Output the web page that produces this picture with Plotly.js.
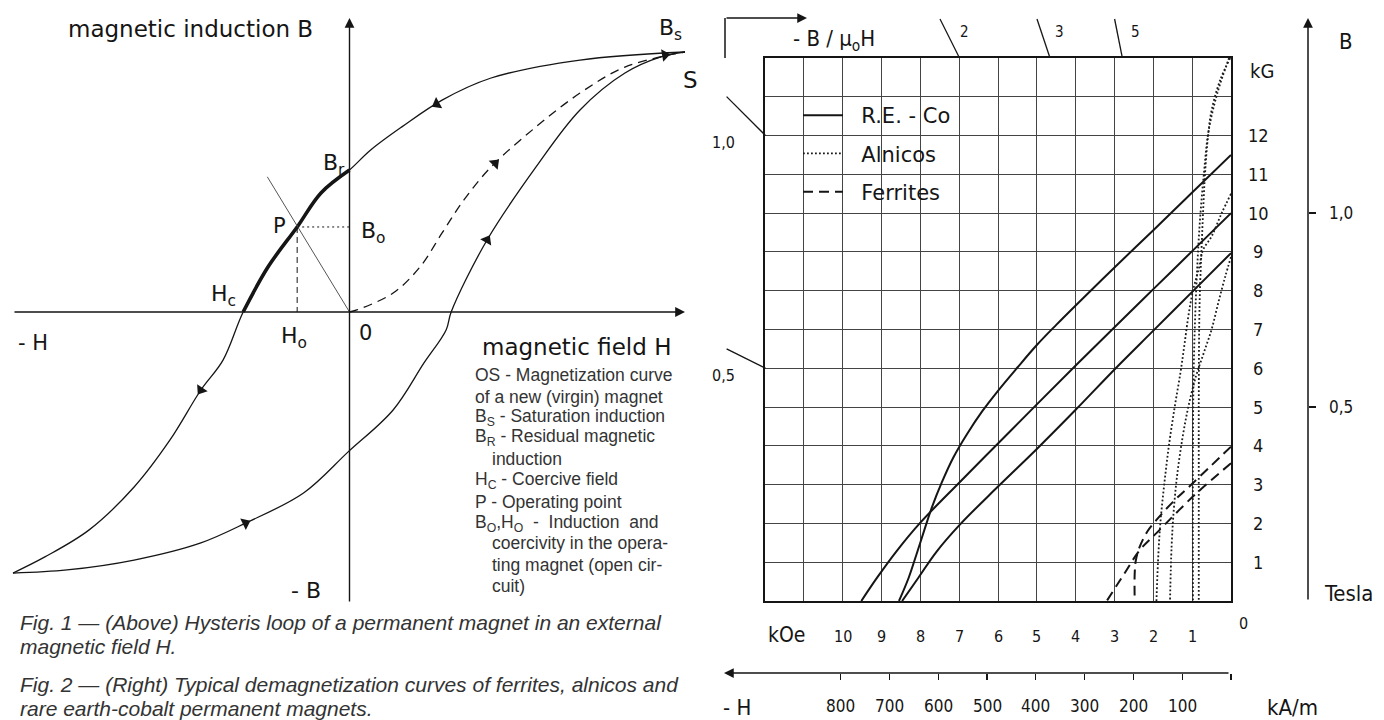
<!DOCTYPE html>
<html>
<head>
<meta charset="utf-8">
<script src="https://cdn.plot.ly/plotly-3.0.1.min.js"></script>
<style>html,body{margin:0;padding:0;background:#fff;}#chart{width:1384px;height:720px;}</style>
</head>
<body>
<div id="chart"></div>
<script>
// ---------- Fig. 1 : schematic hysteresis loop (normalised units, Bs = Hs = 10) ----------
const loopDownH = [10, 6.87, 4.22, 2.76, 1.56, 0.63, 0, -0.85, -1.56, -2.43, -3.17, -3.77, -4.43, -5.35, -6.42, -7.76, -9.08, -10.03];
const loopDownB = [10, 9.69, 9.0, 8.15, 7.12, 6.23, 5.46, 4.58, 3.27, 1.73, 0, -1.85, -3.0, -4.92, -6.73, -8.38, -9.42, -10.04];
const loopUpH = [-10.03, -8.42, -6.42, -4.43, -3.10, -1.37, -0.04, 1.30, 2.22, 2.88, 3.03, 4.10, 5.56, 6.87, 8.21, 9.28, 10];
const loopUpB = [-10.04, -9.92, -9.54, -8.88, -8.12, -6.96, -5.38, -3.77, -1.96, -0.69, 0, 2.77, 5.58, 7.77, 9.19, 9.81, 10];
const virginH = [0, 0.22, 1.30, 2.10, 2.76, 3.41, 4.22, 5.56, 6.87, 8.21, 10];
const virginB = [0, 0.08, 0.73, 1.73, 3.04, 4.31, 5.58, 7.12, 8.42, 9.42, 10];
const workH = [0, -0.85, -1.56, -2.43, -3.17];
const workB = [5.46, 4.58, 3.27, 1.73, 0];
const opH = -1.56, opB = 3.27;
const loadH = [0, -2.45];
const loadB = [0, 5.2];
const arrowH = [2.6, -4.43, -3.10, 4.10, 4.34, 9.4];
const arrowB = [8.0, -3.0, -8.12, 2.77, 5.72, 9.88];
const arrowAngle = [-119, -146, 64, 30, 45, 80];

// ---------- Fig. 2 : demagnetization curves (H in kOe, B in kG) ----------
const reCo1H = [0, 1, 2, 3, 4, 4.5, 5, 5.5, 6, 6.4, 6.8, 7.15, 7.45, 7.7, 7.9, 8.1, 8.3, 8.55];
const reCo1B = [11.5, 10.53, 9.56, 8.6, 7.62, 7.12, 6.6, 6.02, 5.42, 4.9, 4.3, 3.7, 3.05, 2.42, 1.82, 1.2, 0.6, 0];
const reCo2H = [0, 1, 2, 3, 4, 5, 6, 7, 8, 8.6, 9.1, 9.52];
const reCo2B = [10, 9.02, 8.04, 7.06, 6.07, 5.07, 4.06, 3.05, 2.02, 1.3, 0.62, 0];
const reCo3H = [0, 1, 2, 3, 4, 5, 6, 7, 7.6, 8.05, 8.47];
const reCo3B = [8.97, 7.97, 6.97, 5.97, 4.93, 3.92, 2.95, 1.95, 1.25, 0.6, 0];

const al1H = [0.02, 0.28, 0.5, 0.59, 0.67, 0.72, 0.76, 0.8, 0.82, 0.83, 0.83, 0.83];
const al1B = [14, 13.43, 12.65, 12.0, 11.0, 10.0, 9.05, 8.0, 7.0, 5.0, 3.0, 0];
const al2H = [0.05, 0.35, 0.58, 0.7, 0.8, 0.87, 0.92, 0.96, 0.98, 0.98];
const al2B = [14, 13.1, 12.1, 11.0, 9.8, 8.6, 7.4, 6.0, 4.0, 0];
const al3H = [0, 0.24, 0.5, 0.72, 0.82, 0.98, 1.1, 1.2, 1.3, 1.45, 1.6, 1.72, 1.82, 1.88, 1.92];
const al3B = [10.5, 10.0, 9.4, 9.05, 8.6, 8.0, 7.33, 6.6, 5.9, 5.0, 4.0, 3.0, 2.0, 1.0, 0];
const al4H = [0, 0.15, 0.33, 0.5, 0.7, 0.9, 1.1, 1.25, 1.38, 1.47, 1.53, 1.57];
const al4B = [8.87, 8.36, 7.68, 7.0, 6.4, 5.8, 5.0, 4.2, 3.3, 2.4, 1.4, 0];

const fe1H = [0, 0.98, 1.5, 1.92, 2.15, 2.35, 2.45, 2.48, 2.48];
const fe1B = [3.98, 3.04, 2.55, 2.09, 1.8, 1.4, 1.05, 0.7, 0];
const fe2H = [0, 0.93, 1.92, 2.35, 2.75, 3.2];
const fe2B = [3.55, 2.74, 1.75, 1.31, 0.7, 0];

// tick labels
const kOeTicks = [1, 2, 3, 4, 5, 6, 7, 8, 9, 10];
const kGTicks = [1, 2, 3, 4, 5, 6, 7, 8, 9, 10, 11, 12];
const kAmTicks = [100, 200, 300, 400, 500, 600, 700, 800];
const teslaTicks = [0.5, 1.0];
const teslaLabels = ['0,5', '1,0'];
const permeance = [0.5, 1, 2, 3, 5];
const permeanceLabels = ['0,5', '1,0', '2', '3', '5'];

// ---------- layout helpers ----------
const W = 1384, Hgt = 720;
const px = x => x / W;
const py = y => 1 - y / Hgt;
const TECH = "'DejaVu Sans Condensed', 'DejaVu Sans', sans-serif";
const WIDE = "'DejaVu Sans', sans-serif";
const SANS = "'Liberation Sans', Arial, sans-serif";
const INK = '#151515';
const NB = '\u00a0\u00a0';

const traces = [];
// Fig 1 traces
traces.push({x: loopDownH, y: loopDownB, xaxis: 'x2', yaxis: 'y2', mode: 'lines', line: {color: INK, width: 1.3, shape: 'spline'}, showlegend: false, hoverinfo: 'skip'});
traces.push({x: loopUpH, y: loopUpB, xaxis: 'x2', yaxis: 'y2', mode: 'lines', line: {color: INK, width: 1.3, shape: 'spline'}, showlegend: false, hoverinfo: 'skip'});
traces.push({x: virginH, y: virginB, xaxis: 'x2', yaxis: 'y2', mode: 'lines', line: {color: INK, width: 1.3, shape: 'spline', dash: '9px,6px'}, showlegend: false, hoverinfo: 'skip'});
traces.push({x: workH, y: workB, xaxis: 'x2', yaxis: 'y2', mode: 'lines', line: {color: INK, width: 3.6, shape: 'spline'}, showlegend: false, hoverinfo: 'skip'});
traces.push({x: loadH, y: loadB, xaxis: 'x2', yaxis: 'y2', mode: 'lines', line: {color: '#555', width: 1}, showlegend: false, hoverinfo: 'skip'});
traces.push({x: [opH, 0], y: [opB, opB], xaxis: 'x2', yaxis: 'y2', mode: 'lines', line: {color: INK, width: 1, dash: '2px,3px'}, showlegend: false, hoverinfo: 'skip'});
traces.push({x: [opH, opH], y: [opB, 0], xaxis: 'x2', yaxis: 'y2', mode: 'lines', line: {color: INK, width: 1, dash: '6px,4px'}, showlegend: false, hoverinfo: 'skip'});
traces.push({x: arrowH, y: arrowB, xaxis: 'x2', yaxis: 'y2', mode: 'markers', marker: {symbol: 'triangle-up', size: 11, color: INK, angle: arrowAngle, line: {width: 0}}, showlegend: false, hoverinfo: 'skip'});

// Fig 2 traces
[[reCo1H, reCo1B], [reCo2H, reCo2B], [reCo3H, reCo3B]].forEach((c, i) => {
  traces.push({x: c[0], y: c[1], mode: 'lines', name: NB + 'R.E. - Co', legendgroup: 're', showlegend: i === 0, line: {color: INK, width: 2, shape: 'spline'}, hoverinfo: 'skip'});
});
[[al1H, al1B], [al2H, al2B], [al3H, al3B], [al4H, al4B]].forEach((c, i) => {
  traces.push({x: c[0], y: c[1], mode: 'lines', name: NB + 'Alnicos', legendgroup: 'al', showlegend: i === 0, line: {color: '#1c1c1c', width: 1.8, dash: '1.8px,2.2px', shape: 'spline'}, hoverinfo: 'skip'});
});
[[fe1H, fe1B], [fe2H, fe2B]].forEach((c, i) => {
  traces.push({x: c[0], y: c[1], mode: 'lines', name: NB + 'Ferrites', legendgroup: 'fe', showlegend: i === 0, line: {color: INK, width: 2, dash: '10px,6px', shape: 'spline'}, hoverinfo: 'skip'});
});
// dummies so the secondary scales are drawn
traces.push({x: [0], y: [0], xaxis: 'x3', yaxis: 'y', mode: 'markers', marker: {opacity: 0}, showlegend: false, hoverinfo: 'skip'});
traces.push({x: [0], y: [0], xaxis: 'x', yaxis: 'y3', mode: 'markers', marker: {opacity: 0}, showlegend: false, hoverinfo: 'skip'});
// permeance (-B/mu0H) tick marks: load lines B = p*H just outside the frame
permeance.forEach(p => {
  let h0, h1;
  if (p * 12 <= 14) { h0 = 12; h1 = 13; } else { h0 = 14 / p; h1 = 15 / p; }
  traces.push({x: [h0, h1], y: [p * h0, p * h1], xaxis: 'x4', yaxis: 'y4', mode: 'lines', line: {color: INK, width: 1.3}, showlegend: false, hoverinfo: 'skip'});
});

const ann = [];
function txt(text, x, y, size, opts) {
  ann.push(Object.assign({text: text, x: px(x), y: py(y), xref: 'paper', yref: 'paper', showarrow: false, xanchor: 'center', yanchor: 'middle', font: {family: TECH, size: size, color: INK}}, opts || {}));
}
const wide = s => ({font: {family: WIDE, size: s, color: INK}});
// Fig 1 labels
txt('magnetic induction B', 190, 29, 23, wide(23));
txt('B<sub>s</sub>', 670, 30, 22, wide(22));
txt('S', 690, 80, 23, wide(23));
txt('B<sub>r</sub>', 334, 165, 22, wide(22));
txt('P', 279, 226, 21, wide(21));
txt('B<sub>o</sub>', 373, 233, 22, wide(22));
txt('H<sub>c</sub>', 223, 295, 22, wide(22));
txt('H<sub>o</sub>', 294, 337, 22, wide(22));
txt('0', 365, 333, 21, wide(21));
txt('- H', 33, 343, 21, wide(21));
txt('magnetic field H', 576, 347, 23, wide(23));
txt('- B', 306, 590, 22, wide(22));
const notes = [
  ['OS - Magnetization curve', 473], ['of a new (virgin) magnet', 473], ['B<sub>S</sub> - Saturation induction', 473],
  ['B<sub>R</sub> - Residual magnetic', 473], ['induction', 490], ['H<sub>C</sub> - Coercive field', 473],
  ['P - Operating point', 473], ['B<sub>O</sub>,H<sub>O</sub>  -  Induction  and', 473], ['coercivity in the opera-', 490],
  ['ting magnet (open cir-', 490], ['cuit)', 490]
];
const noteY = [375, 397, 417, 438, 459, 480, 502, 523, 543, 565, 586];
notes.forEach((n, i) => txt(n[0], n[1], noteY[i], 17, {xanchor: 'left', font: {family: SANS, size: 17.5, color: '#333'}}));
const capFont = {family: SANS, size: 21, color: '#333', style: 'italic'};
txt('Fig. 1 — (Above) Hysteris loop of a permanent magnet in an external', 18, 622, 21, {xanchor: 'left', font: capFont});
txt('magnetic field H.', 18, 646, 21, {xanchor: 'left', font: capFont});
txt('Fig. 2 — (Right) Typical demagnetization curves of ferrites, alnicos and', 18, 684, 21, {xanchor: 'left', font: capFont});
txt('rare earth-cobalt permanent magnets.', 18, 708, 21, {xanchor: 'left', font: capFont});

// Fig 1 axes arrows (in data coords of x2/y2)
ann.push({x: 10.0, y: 0, ax: -10.03, ay: 0, xref: 'x2', yref: 'y2', axref: 'x2', ayref: 'y2', text: '', showarrow: true, arrowhead: 2, arrowsize: 1.4, arrowwidth: 1.4, arrowcolor: INK});
ann.push({x: 0, y: 11.31, ax: 0, ay: -11.19, xref: 'x2', yref: 'y2', axref: 'x2', ayref: 'y2', text: '', showarrow: true, arrowhead: 2, arrowsize: 1.4, arrowwidth: 1.4, arrowcolor: INK});

// Fig 2 labels
kGTicks.forEach(v => ann.push({text: String(v), x: px(1258), y: v, xref: 'paper', yref: 'y', xanchor: 'center', yanchor: 'middle', showarrow: false, font: {family: TECH, size: 18, color: INK}}));
txt('kG', 1262, 71, 20);
kOeTicks.forEach(v => ann.push({text: String(v), x: v, y: py(636), xref: 'x', yref: 'paper', xanchor: 'center', yanchor: 'middle', showarrow: false, font: {family: TECH, size: 16, color: INK}}));
txt('kOe', 786, 635, 21);
txt('0', 1243, 623, 16);
teslaTicks.forEach((v, i) => ann.push({text: teslaLabels[i], x: px(1341), y: v, xref: 'paper', yref: 'y3', xanchor: 'center', yanchor: 'middle', showarrow: false, font: {family: TECH, size: 17, color: INK}}));
txt('B', 1346, 41, 22);
txt('Tesla', 1348, 593, 22);
kAmTicks.forEach(v => ann.push({text: String(v), x: v, y: py(706), xref: 'x3', yref: 'paper', xanchor: 'center', yanchor: 'middle', showarrow: false, font: {family: TECH, size: 17, color: INK}}));
txt('- H', 737, 707, 22);
txt('kA/m', 1292, 707, 22);
txt('- B / μ<sub>o</sub>H', 834, 40, 22);
permeance.forEach((p, i) => {
  if (p * 12 <= 14) {
    ann.push({text: permeanceLabels[i], x: 12, y: p * 12, xref: 'x4', yref: 'y4', xanchor: 'center', yanchor: 'middle', showarrow: false, xshift: -42, yshift: -7, font: {family: TECH, size: 16, color: INK}});
  } else {
    ann.push({text: permeanceLabels[i], x: 14.66 / p, y: 14.66, xref: 'x4', yref: 'y4', xanchor: 'center', yanchor: 'middle', showarrow: false, xshift: 18, font: {family: TECH, size: 15, color: INK}});
  }
});
// decorative axis arrows of Fig 2 (paper / pixel coordinates)
ann.push({x: px(807), y: py(18), xref: 'paper', yref: 'paper', ax: -82, ay: 0, axref: 'pixel', ayref: 'pixel', text: '', showarrow: true, arrowhead: 2, arrowsize: 1.3, arrowwidth: 1.5, arrowcolor: INK});
ann.push({x: px(1308), y: py(18), xref: 'paper', yref: 'paper', ax: 0, ay: 583, axref: 'pixel', ayref: 'pixel', text: '', showarrow: true, arrowhead: 2, arrowsize: 1.3, arrowwidth: 1.5, arrowcolor: INK});
ann.push({x: px(724), y: py(673), xref: 'paper', yref: 'paper', ax: 506, ay: 0, axref: 'pixel', ayref: 'pixel', text: '', showarrow: true, arrowhead: 2, arrowsize: 1.3, arrowwidth: 1.5, arrowcolor: INK});

const shapes = [
  {type: 'line', xref: 'paper', yref: 'paper', x0: px(725), x1: px(725), y0: py(58), y1: py(18), line: {color: INK, width: 1.5}},
  // white box behind the legend (covers grid lines as in the drawing)
  {type: 'rect', xref: 'paper', yref: 'paper', x0: px(786), x1: px(978), y0: py(228), y1: py(75), layer: 'between', fillcolor: '#fff', line: {width: 0}}
];

const kOePerkAm = 1 / 79.5775;
const layout = {
  width: W, height: Hgt, autosize: false,
  margin: {l: 0, r: 0, t: 0, b: 0, pad: 0},
  paper_bgcolor: '#fff', plot_bgcolor: 'rgba(0,0,0,0)',
  showlegend: true,
  legend: {x: px(798), y: py(95), xanchor: 'left', yanchor: 'top', bgcolor: 'rgba(255,255,255,0)', borderwidth: 0,
    font: {family: WIDE, size: 21, color: INK}, traceorder: 'grouped', tracegroupgap: 8, itemwidth: 40},
  xaxis: {domain: [px(765), px(1231)], range: [12, 0], anchor: 'y', tick0: 0, dtick: 1, showgrid: true, gridcolor: '#444', gridwidth: 1,
    showline: true, mirror: true, linecolor: INK, linewidth: 2, ticks: '', showticklabels: false, zeroline: false, fixedrange: true},
  yaxis: {domain: [py(601), py(58)], range: [0, 14], anchor: 'x', tick0: 0, dtick: 1, showgrid: true, gridcolor: '#444', gridwidth: 1,
    showline: true, mirror: true, linecolor: INK, linewidth: 2, ticks: '', showticklabels: false, zeroline: false, fixedrange: true},
  xaxis2: {domain: [0, px(700)], range: [(0 - 349.5) / 33.55, (700 - 349.5) / 33.55], anchor: 'y2', visible: false, fixedrange: true},
  yaxis2: {domain: [0, 1], range: [(312 - 720) / 26, 312 / 26], anchor: 'x2', visible: false, fixedrange: true},
  xaxis3: {overlaying: 'x', anchor: 'free', position: py(673), side: 'bottom', range: [12 / kOePerkAm, 0],
    tickvals: [0].concat(kAmTicks), ticks: 'outside', ticklen: 6, tickwidth: 1.3, tickcolor: INK, showticklabels: false,
    showgrid: false, showline: false, zeroline: false, fixedrange: true},
  yaxis3: {overlaying: 'y', anchor: 'free', position: px(1308), side: 'right', range: [0, 1.4],
    tickvals: teslaTicks, ticks: 'outside', ticklen: 7, tickwidth: 1.3, tickcolor: INK, showticklabels: false,
    showgrid: false, showline: false, zeroline: false, fixedrange: true},
  xaxis4: {domain: [px(700), px(1231)], range: [(1231 - 700) / 38.8, 0], anchor: 'y4', visible: false, fixedrange: true},
  yaxis4: {domain: [py(601), 1], range: [0, 601 / 38.8], anchor: 'x4', visible: false, fixedrange: true},
  annotations: ann,
  shapes: shapes
};

Plotly.newPlot('chart', traces, layout, {staticPlot: true, displayModeBar: false});
</script>
</body>
</html>
